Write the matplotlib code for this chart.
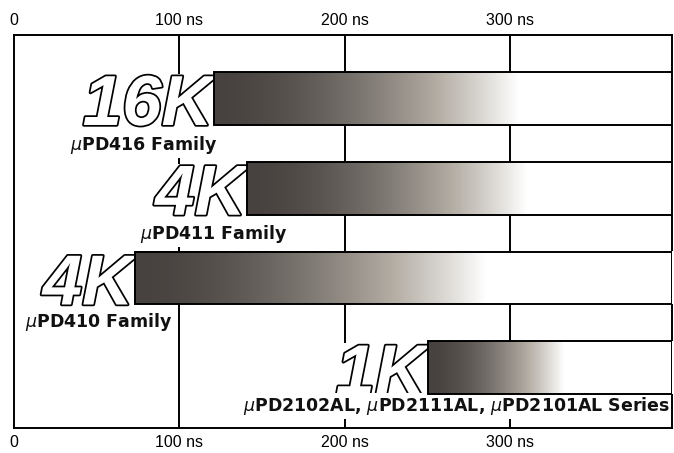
import numpy as np
import matplotlib.pyplot as plt
import matplotlib.patheffects as pe
from matplotlib.colors import to_rgb
from matplotlib.patches import Rectangle

# values
capacity = ["16K", "4K", "4K", "1K"]
family = [r"$\mu$PD416 Family", r"$\mu$PD411 Family", r"$\mu$PD410 Family",
          r"$\mu$PD2102AL, $\mu$PD2111AL, $\mu$PD2101AL Series"]
access_ns = [121, 141, 73, 250]
fade_ns = [305, 310, 285, 332]      # where the shading has turned white
ticks = [0, 100, 200, 300]
tick_labels = ["0", "100 ns", "200 ns", "300 ns"]

# layout
XMAX = 397.6
H = 0.59
label_x = [34, 76, 6.6, 396.4]
label_ha = ["left", "left", "left", "right"]
label_dy = [0.574, 0.565, 0.546, 0.48]

fig = plt.figure(figsize=(6.74, 4.53), dpi=100)
ax = fig.add_axes([14 / 674, 1 - 428 / 453, (672 - 14) / 674, (428 - 35) / 453])

for x in ticks[1:]:
    ax.axvline(x, color="black", lw=1.4, zorder=1)

dark = np.array(to_rgb("#47423f"))
warm = np.array(to_rgb("#b5afa6"))
light = np.array(to_rgb("#ffffff"))

for i in range(len(capacity)):
    start = access_ns[i]
    xs = np.linspace(start, XMAX, 400)
    t = np.clip((xs - start) / (fade_ns[i] - start), 0, 1)
    # dark -> warm grey -> white, staying dark a little longer
    f = t ** 1.7
    a = np.clip(f / 0.6, 0, 1)[:, None]
    b = np.clip((f - 0.6) / 0.4, 0, 1)[:, None]
    col = dark * (1 - a) + warm * a
    col = col * (1 - b) + light * b
    ax.imshow(col[None, :, :], extent=[start, XMAX, i + H / 2, i - H / 2], aspect="auto",
              interpolation="bilinear", zorder=3)
    ax.add_patch(Rectangle((start, i - H / 2), XMAX - start, H, fill=False,
                           ec="black", lw=1.4, zorder=4))

    ax.text(start - 1, i + H / 2, capacity[i], ha="right", va="baseline",
            fontsize=51, family="Liberation Sans", weight="bold", style="italic",
            color="white",
            path_effects=[pe.withStroke(linewidth=2.5, foreground="black")],
            bbox=dict(fc="white", ec="none", pad=0), zorder=2)

    ax.text(label_x[i], i + label_dy[i], family[i], ha=label_ha[i], va="baseline",
            fontsize=12.5, family="DejaVu Sans", weight="bold", color="#111111",
            bbox=dict(fc="white", ec="none", pad=1.5), zorder=2.2)

ax.set_xlim(0, XMAX)
ax.set_ylim(3.671, -0.7075)
ax.set_xticks(ticks, tick_labels, fontsize=11.5, family="Liberation Sans")
ax.set_yticks([])
ax.tick_params(axis="x", top=True, labeltop=True, bottom=True, labelbottom=True,
               length=0, pad=5)
for s in ax.spines.values():
    s.set_linewidth(1.4)

fig.savefig("out.png", dpi=100)
